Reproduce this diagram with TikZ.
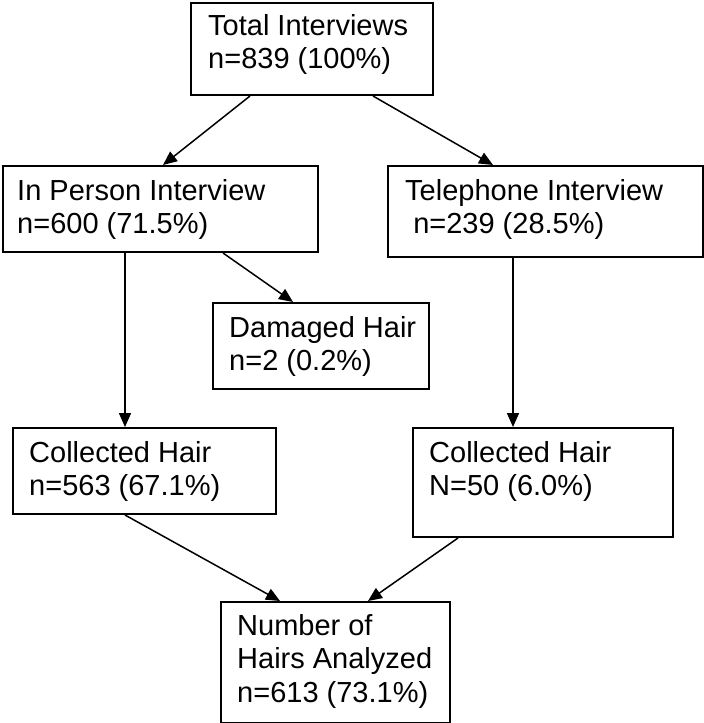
\documentclass[tikz,border=0pt]{standalone}
\usepackage{fontspec}
\setmainfont{Liberation Sans}
\usetikzlibrary{arrows.meta}
\begin{document}
\begin{tikzpicture}[x=1pt,y=1pt,
  box/.style={draw=black, line width=2pt, rectangle, inner sep=0pt, anchor=north west},
  lbl/.style={anchor=base west, inner sep=0pt, align=left, font=\fontsize{29pt}{33.5pt}\selectfont},
  arr/.style={draw=black, line width=1.5pt, -{Triangle[length=14pt,width=12pt]}}]
\path[use as bounding box, fill=white] (0,0) rectangle (704,-723);
% boxes
\node[box, minimum width=242pt, minimum height=92pt] (tot) at (190,-2) {};
\node[box, minimum width=315pt, minimum height=86pt] (inp) at (2,-165) {};
\node[box, minimum width=315pt, minimum height=91pt] (tel) at (387,-165) {};
\node[box, minimum width=216pt, minimum height=86pt] (dam) at (212,-302) {};
\node[box, minimum width=263pt, minimum height=86pt] (colL) at (12,-427) {};
\node[box, minimum width=260pt, minimum height=109pt] (colR) at (412,-427) {};
\node[box, minimum width=229pt, minimum height=121pt] (bot) at (220,-601) {};
% texts (base anchor = baseline of the last line)
\node[lbl] (totT) at ([xshift=18pt,yshift=-66.5pt]tot.north west) {Total Interviews\\n=839 (100\%)};
\node[lbl] (inpT) at ([xshift=15pt,yshift=-68.5pt]inp.north west) {In Person Interview\\n=600 (71.5\%)};
\node[lbl] (telT) at ([xshift=18pt,yshift=-68.5pt]tel.north west) {Telephone Interview\\\ n=239 (28.5\%)};
\node[lbl] (damT) at ([xshift=17pt,yshift=-68.5pt]dam.north west) {Damaged Hair\\n=2 (0.2\%)};
\node[lbl] (colLT) at ([xshift=17pt,yshift=-68.5pt]colL.north west) {Collected Hair\\n=563 (67.1\%)};
\node[lbl] (colRT) at ([xshift=17pt,yshift=-68.5pt]colR.north west) {Collected Hair\\N=50 (6.0\%)};
\node[lbl] (botT) at ([xshift=17pt,yshift=-101pt]bot.north west) {Number of\\Hairs Analyzed\\n=613 (73.1\%)};
% connectors
\draw[arr] ([xshift=60pt]tot.south west) -- ([xshift=161pt]inp.north west);
\draw[arr] ([xshift=183pt]tot.south west) -- ([xshift=106pt]tel.north west);
\draw[arr] ([xshift=123pt]inp.south west) -- ([xshift=113pt]colL.north west);
\draw[arr] ([xshift=221pt]inp.south west) -- ([xshift=81pt]dam.north west);
\draw[arr] ([xshift=126pt]tel.south west) -- ([xshift=101pt]colR.north west);
\draw[arr] ([xshift=113pt]colL.south west) -- ([xshift=60pt]bot.north west);
\draw[arr] ([xshift=46pt]colR.south west) -- ([xshift=148pt]bot.north west);
\end{tikzpicture}
\end{document}
